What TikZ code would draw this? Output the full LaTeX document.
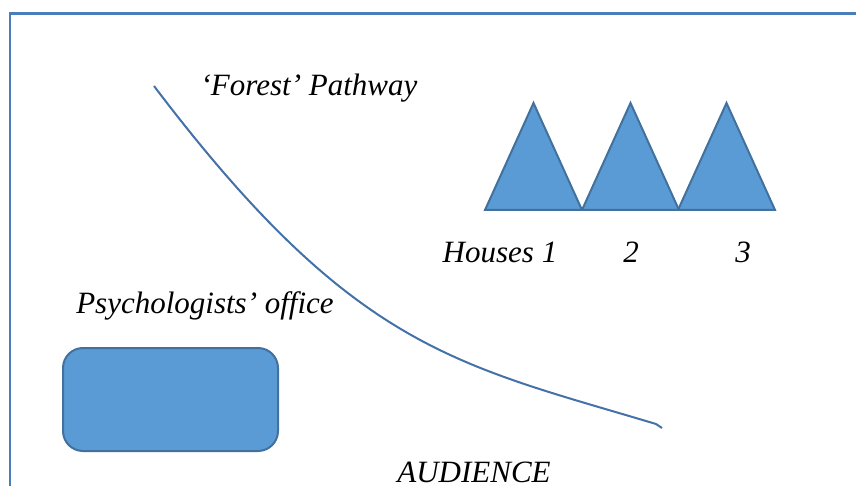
\documentclass[tikz,border=0pt]{standalone}
\usepackage{fontspec}
\setmainfont{Liberation Serif}
\usetikzlibrary{positioning}
\definecolor{boxfill}{HTML}{5B9BD5}
\definecolor{boxline}{HTML}{41719C}
\definecolor{frameline}{HTML}{4A7EBB}
\tikzstyle{every node}=[font=\fontsize{31}{37}\selectfont\itshape, inner sep=0pt]
\tikzstyle{label} = [anchor=base]
\tikzstyle{office} = [rectangle, rounded corners=20pt, minimum width=215pt, minimum height=103pt, draw=boxline, line width=2pt, fill=boxfill]
\tikzstyle{house} = [draw=boxline, line width=2pt, fill=boxfill, line join=miter]
\tikzstyle{pathway} = [draw=frameline!90!black, line width=2pt]

\begin{document}
\begin{tikzpicture}[x=1pt, y=-1pt]
            \useasboundingbox (0,0) rectangle (856,486);
            \draw [frameline, line width=2.6pt] (10,486) -- (10,13.5) -- (856,13.5);
            % houses
            \foreach \i/\x in {1/485, 2/582, 3/678}
              \draw [house] (\x,210) -- (\x+48.5,103) -- (\x+97,210) -- cycle;
            \node (forest) [label] at (309,96) {‘Forest’ Pathway};
            \node (houses) [label] at (500,262) {Houses 1};
            \node (two) [label] at (631,262) {2};
            \node (three) [label] at (743,262) {3};
            \node (psych) [label] at (205,313) {Psychologists’ office};
            \node (office) [office] at (170.5,399.5) {};
            \node (audience) [label] at (474,482) {AUDIENCE};
            \draw [pathway] (154,86) .. controls (354,350) and (456,364) .. (656,424) -- (662,428);
          \end{tikzpicture}
\end{document}
